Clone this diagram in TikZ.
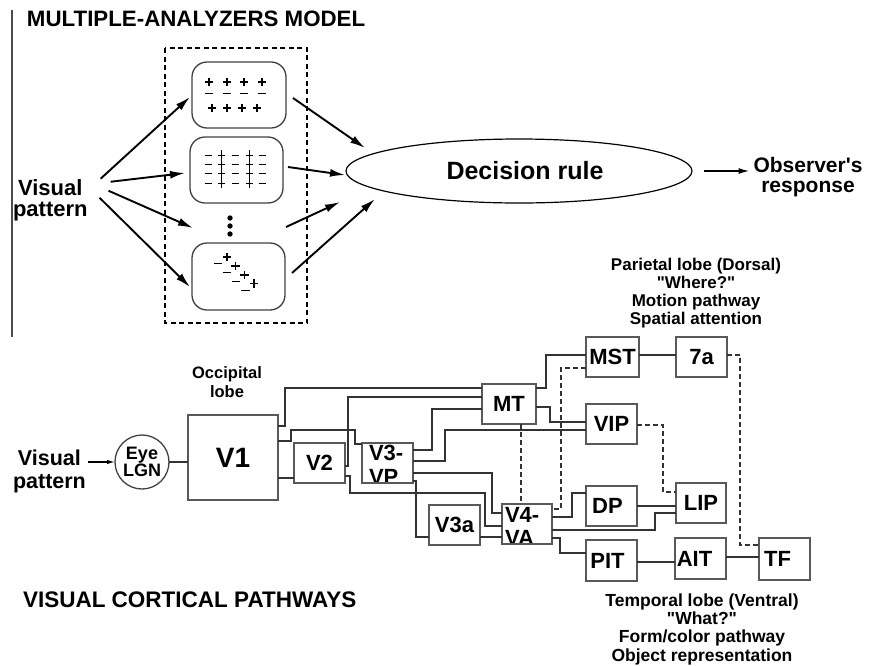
\documentclass[tikz,border=0pt]{standalone}
\usepackage{fontspec}
\setmainfont{Liberation Sans}[Ligatures=TeXOff]
\usetikzlibrary{arrows.meta,shapes.geometric,calc}
\tikzset{
  every node/.style={inner sep=0pt,outer sep=0pt},
  fnt/.style 2 args={font=\fontsize{#1}{#2}\selectfont\bfseries},
  bigarr/.style={line width=1.9,-{Latex[length=15,width=8]}},
  smallarr/.style={line width=1.6,-{Latex[length=11,width=6]}},
  anbox/.style={draw=black!75,line width=1.3,rounded corners=15},
  frame/.style={draw,line width=1.1,dash pattern=on 5pt off 3.5pt},
  area/.style={draw=black!65,line width=1.4,fnt={22}{22}},
  con/.style={draw=black!80,line width=1.1},
  dcon/.style={draw=black!80,line width=1.1,dash pattern=on 5pt off 3pt},
  pls/.pic={\draw[line width=1.1] (-4.2,0)--(4.2,0) (0,-4.2)--(0,4.2);},
  mns/.pic={\draw[line width=1.1] (-4.2,0)--(4.2,0);},
  plsb/.pic={\draw[line width=1] (-3.5,0)--(3.5,0) (0,-4.7)--(0,4.7);},
  mnsb/.pic={\draw[line width=1] (-3.5,0)--(3.5,0);},
}
\begin{document}
\begin{tikzpicture}[x=1pt,y=-1pt]
\useasboundingbox (0,0) rectangle (885,665);

% ---------------- top: multiple-analyzers model ----------------
\draw[black!70,line width=1.4] (12,10) -- (12,337);
\node[fnt={22.3}{24},anchor=base west] (title) at (27,26) {MULTIPLE-ANALYZERS MODEL};

\draw[frame] (165,48) rectangle (307,323);

\node[anbox,minimum width=94,minimum height=66] (an1) at (239,95) {};
\node[anbox,minimum width=93,minimum height=66] (an2) at (236.5,170) {};
\node[anbox,minimum width=93,minimum height=67] (an3) at (238.5,276.5) {};
\coordinate (dots) at (230,226);
\foreach \yy in {218,226,234} \fill (230,\yy) circle (2.7);

% analyzer 1
\foreach \xx in {209,227,244,262} {\pic at (\xx,82) {pls}; \pic at (\xx,93.5) {mns};}
\foreach \xx in {212,227,242,257} {\pic at (\xx,108) {pls};}
% analyzer 2
\foreach \yy in {155,164.3,173.6,183} {
  \pic at (208,\yy) {mnsb}; \pic at (221,\yy) {plsb}; \pic at (235,\yy) {mnsb};
  \pic at (249,\yy) {plsb}; \pic at (262,\yy) {mnsb};}
% analyzer 3
\foreach \xx/\yy in {227/257,235.5/266,244.5/275,254/283.5} {\pic at (\xx,\yy) {pls};}
\foreach \xx/\yy in {218/263.5,227/272.5,236/281.5,245.5/290.5} {\pic at (\xx,\yy) {mns};}

\node[fnt={22}{21},align=center,anchor=north west] (vp1) at (13,180) {Visual\\pattern};

\node[draw,ellipse,line width=1.2,minimum width=346,minimum height=64,fnt={25}{25}] (dec) at (519,171) {\hspace*{12pt}Decision rule};
\node[fnt={21}{20},align=center,anchor=north] (resp) at (808,157) {Observer's\\response};

\draw[bigarr] ($(vp1.east)+(13,-22)$) -- ($(an1.west)+(-2,2)$);
\draw[bigarr] ($(vp1.east)+(23,-19)$) -- ($(an2.west)+(-5,3)$);
\draw[bigarr] ($(vp1.east)+(21,-10)$) -- ($(dots)+(-37,2)$);
\draw[bigarr] ($(vp1.east)+(12,-3)$) -- ($(an3.west)+(-2,10.5)$);

\draw[bigarr] ($(an1.east)+(7,3)$) -- ($(dec.west)+(19,-23)$);
\draw[bigarr] ($(an2.east)+(5,-3)$) -- ($(dec.west)+(-1,4)$);
\draw[bigarr] ($(dots)+(56,1)$) -- ($(dec.west)+(-6,31)$);
\draw[bigarr] ($(an3.east)+(7,-3.5)$) -- ($(dec.west)+(29,28)$);

\draw[smallarr] ($(dec.east)+(12,0)$) -- ([xshift=-4pt]resp.west |- dec.east);

% ---------------- bottom: visual cortical pathways ----------------
\node[fnt={16.5}{19},align=center,anchor=north] (occ) at (227,367) {Occipital\\lobe};
\node[fnt={21.5}{23},align=center,anchor=north west] (vp2) at (13,450) {Visual\\pattern};
\node[draw=black!75,line width=1.3,circle,minimum size=54,fnt={18}{16},align=center] (eye) at (142,462) {Eye\\LGN};

\node[area,minimum width=90,minimum height=85,fnt={28}{28}] (V1) at (233,457.5) {V1};
\node[area,minimum width=51,minimum height=40] (V2) at (319.5,463) {V2};
\node[fnt={22}{22},anchor=base west] (t3a) at (369,460) {V3-};
\node[fnt={22}{22},anchor=base west] (t3b) at (369,484.5) {VP};
\node[area,minimum width=51,minimum height=40] (V3VP) at (387.5,463) {};
\node[area,minimum width=51,minimum height=40] (V3a) at (454.5,525) {V3a};
\node[fnt={22}{22},anchor=base west] (t4a) at (505,522) {V4-};
\node[fnt={22}{22},anchor=base west] (t4b) at (505,545.5) {VA};
\node[area,minimum width=50,minimum height=40] (V4VA) at (527,524) {};
\node[area,minimum width=54,minimum height=40] (MT) at (509,404) {MT};
\node[area,minimum width=53,minimum height=40] (MST) at (612.5,357) {MST};
\node[area,minimum width=51,minimum height=40] (n7a) at (701.5,357) {7a};
\node[area,minimum width=51,minimum height=40] (VIP) at (611.5,424) {VIP};
\node[area,minimum width=51,minimum height=40] (DP) at (611.5,506) {\hspace*{-8pt}DP};
\node[area,minimum width=50,minimum height=40] (LIP) at (701,503) {LIP};
\node[area,minimum width=51,minimum height=41] (PIT) at (611.5,560.5) {\hspace*{-8pt}PIT};
\node[area,minimum width=51,minimum height=41] (AIT) at (700.5,558.5) {\hspace*{-12pt}AIT};
\node[area,minimum width=51,minimum height=42] (TF) at (784.5,559) {\hspace*{-14pt}TF};

\node[fnt={17}{18},align=center,anchor=north] (dors) at (696,258.5)
  {Parietal lobe (Dorsal)\\"Where?"\\Motion pathway\\Spatial attention};
\node[fnt={17.5}{18.4},align=center,anchor=north] (vent) at (702,593.5)
  {Temporal lobe (Ventral)\\"What?"\\Form/color pathway\\Object representation};
\node[fnt={22.5}{24},anchor=base west] (vcp) at (23,607) {VISUAL CORTICAL PATHWAYS};

% connectors
\draw[line width=1.2,-{Latex[length=8,width=4.5]}] ([xshift=2pt]vp2.east |- eye.west) -- (eye.west);
\draw[con] (eye.east) -- (eye.east -| V1.west);
\draw[con] (V1.east |- 0,426) -| (285,388) -- (MT.west |- 0,388);
\draw[con] (V1.east |- 0,441) -| (291,430) -| (355,444) -- (V3VP.west |- 0,444);
\draw[con] (V1.east |- 0,478) -- (V2.west |- 0,478);
\draw[con] (V2.east |- 0,466) -| (348,397) -- (MT.west |- 0,397);
\draw[con] (V2.east |- 0,476) -| (350,493) -| (485,526) -- (V4VA.west |- 0,526);
\draw[con] (V3VP.east |- 0,450) -| (432,409) -- (MT.west |- 0,409);
\draw[con] (V3VP.east |- 0,461) -| (445,430) -- (VIP.west |- 0,430);
\draw[con] (V3VP.east |- 0,473) -| (492,513) -- (V4VA.west |- 0,513);
\draw[con] (V3VP.east |- 0,481) -| (416,537) -- (V3a.west |- 0,537);
\draw[con] (V3a.east |- 0,537) -- (V4VA.west |- 0,537);
\draw[dcon] (MT.south -| 521,0) -- (V4VA.north -| 521,0);
\draw[con] (MT.east |- 0,388) -| (546,355) -- (MST.west |- 0,355);
\draw[con] (MT.east |- 0,407) -| (550,422) -- (VIP.west |- 0,422);
\draw[dcon] (MST.west |- 0,368) -| (561,509) -- (V4VA.east |- 0,509);
\draw[con] (V4VA.east |- 0,517) -| (572,493) -- (DP.west |- 0,493);
\draw[con] (DP.east |- 0,506) -- (LIP.west |- 0,506);
\draw[con] (V4VA.east |- 0,530) -| (655,513) -- (LIP.west |- 0,513);
\draw[con] (V4VA.east |- 0,538) -| (560,553) -- (PIT.west |- 0,553);
\draw[con] (PIT.east |- 0,562) -- (AIT.west |- 0,562);
\draw[con] (AIT.east |- 0,557) -- (TF.west |- 0,557);
\draw[con] (MST.east |- 0,355) -- (n7a.west |- 0,355);
\draw[dcon] (n7a.east |- 0,355) -| (740,545) -- (TF.west |- 0,545);
\draw[dcon] (VIP.east |- 0,425) -| (663,492) -- (LIP.west |- 0,492);
\end{tikzpicture}
\end{document}
